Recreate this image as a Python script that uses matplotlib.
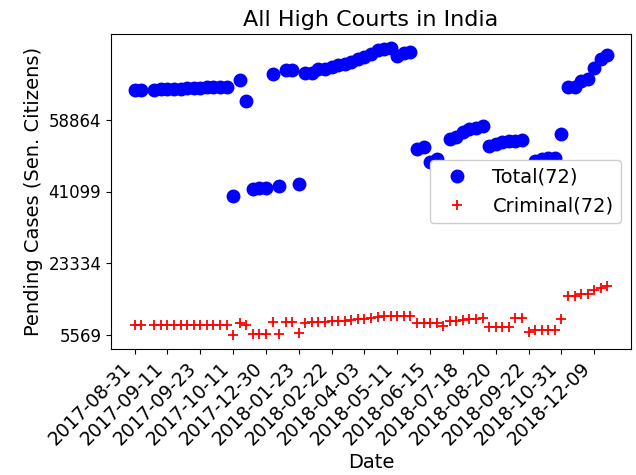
import numpy as np
import matplotlib
matplotlib.use("Agg")
import matplotlib.pyplot as plt

plt.rcParams['font.size'] = 12

nan = np.nan
total = [66305, 66305, nan, 66305, 66477, 66477, 66477, 66553, 66729, 66800,
         66874, 66974, 66974, 67050, 67120, 40027, 68784, 63578, 41762, 41935,
         42085, 70197, 42580, 71262, 71262, 42927, 70445, 70445, 71437, 71586,
         72082, 72502, 72676, 73172, 73916, 74560, 75155, 76221, 76394, 76629,
         74808, 75403, 75726, 51678, 52090, 48380, 49199, 45000, 54157, 54578,
         55818, 56562, 56959, 57454, 52422, 52918, 53340, 53737, 53737, 53910,
         46000, 48778, 49125, 49373, 49522, 55323, 66974, 66974, 68610, 68957,
         71684, 73916, 75056]
criminal = [8048, 8048, nan, 8048, 8048, 8048, 8048, 8048, 8048, 8048,
            8048, 8048, 8048, 8048, 8048, 5569, 8469, 8048, 5668, 5668,
            5668, 8618, 5743, 8643, 8643, 5917, 8469, 8618, 8792, 8792,
            8965, 8965, 9040, 9213, 9387, 9535, 9783, 10031, 10106, 10205,
            10205, 10280, 10280, 8469, 8469, 8469, 8469, 7627, 9040, 9040,
            9213, 9387, 9461, 9783, 7379, 7379, 7379, 7379, 9709, 9709,
            6139, 6734, 6734, 6734, 6734, 9535, 15064, 15064, 15659, 15733,
            16551, 17072, 17642]
tick_labels = ['2017-08-31', '2017-09-11', '2017-09-23', '2017-10-11', '2017-12-30',
               '2018-01-23', '2018-02-22', '2018-04-03', '2018-05-11', '2018-06-15',
               '2018-07-18', '2018-08-20', '2018-09-22', '2018-10-31', '2018-12-09']
ytick_values = [5569, 23334, 41099, 58864]

x = np.arange(len(total))

fig = plt.figure(figsize=(6.36, 4.75), dpi=100)
ax = fig.add_axes([111/636, 1 - 349/475, 520/636, 315/475])
ax.plot(x, total, 'bo', markersize=9, label='Total(72)')
ax.plot(x, criminal, 'r+', markersize=7.5, markeredgewidth=1.3, label='Criminal(72)')
ax.set_xticks(x[::5])
ax.set_xticklabels(tick_labels, rotation=45, ha='right', fontsize=13.5)
ax.set_yticks(ytick_values)
ax.tick_params(axis='y', labelsize=12)
ax.set_title('All High Courts in India', fontsize=16)
ax.set_xlabel('Date', fontsize=14, labelpad=3)
ax.set_ylabel('Pending Cases (Sen. Citizens)', fontsize=14)
ax.legend(loc='center right', framealpha=1, fontsize=14)
fig.savefig('out.png', dpi=100)
